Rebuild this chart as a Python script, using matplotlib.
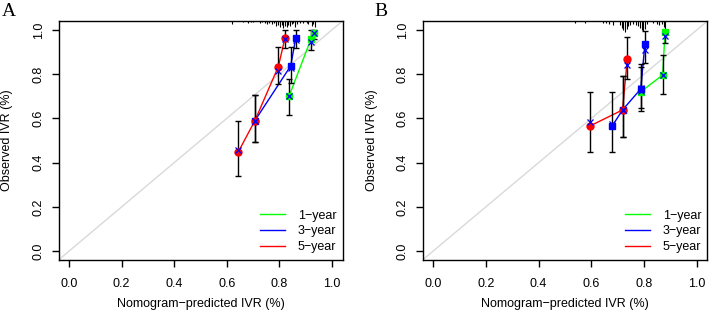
import numpy as np
import matplotlib
matplotlib.use("Agg")
import matplotlib.pyplot as plt

plt.rcParams['font.family'] = ['Liberation Sans', 'DejaVu Sans']

# ---- panel A data (pred, observed, bias-corrected, CI) ----
a1_x = [0.837, 0.920, 0.933]
a1_obs = [0.701, 0.958, 0.986]
a1_cor = [0.700, 0.947, 0.985]
a1_lo = [0.615, 0.910, 0.960]
a1_hi = [0.780, 1.000, 1.000]

a3_x = [0.707, 0.843, 0.862]
a3_obs = [0.590, 0.837, 0.962]
a3_cor = [0.590, 0.826, 0.955]
a3_lo = [0.495, 0.760, 0.920]
a3_hi = [0.705, 0.924, 1.000]

a5_x = [0.644, 0.707, 0.796, 0.821]
a5_obs = [0.449, 0.590, 0.834, 0.962]
a5_cor = [0.455, 0.590, 0.815, 0.958]
a5_lo = [0.339, 0.495, 0.756, 0.920]
a5_hi = [0.588, 0.705, 0.924, 1.000]

# rug of predicted risk at top (position, length)
a_rug_x = [0.621, 0.663, 0.682, 0.692, 0.701, 0.726, 0.733, 0.745, 0.754, 0.762,
           0.771, 0.779, 0.786, 0.794, 0.802, 0.809, 0.815, 0.822, 0.828, 0.834,
           0.840, 0.847, 0.852, 0.859, 0.866, 0.878, 0.891, 0.904, 0.910, 0.923,
           0.929, 0.935]
a_rug_h = [0.014, 0.006, 0.007, 0.005, 0.006, 0.009, 0.005, 0.007, 0.013, 0.009,
           0.014, 0.009, 0.022, 0.018, 0.027, 0.018, 0.031, 0.022, 0.027, 0.018,
           0.022, 0.014, 0.009, 0.027, 0.014, 0.009, 0.009, 0.009, 0.014, 0.022,
           0.014, 0.027]

# ---- panel B data ----
b1_x = [0.787, 0.870, 0.879]
b1_obs = [0.720, 0.796, 0.990]
b1_cor = [0.725, 0.796, 0.970]
b1_lo = [0.646, 0.710, 0.940]
b1_hi = [0.834, 0.887, 1.000]

b3_x = [0.679, 0.718, 0.787, 0.803]
b3_obs = [0.566, 0.638, 0.733, 0.938]
b3_cor = [0.575, 0.638, 0.735, 0.910]
b3_lo = [0.447, 0.514, 0.633, 0.850]
b3_hi = [0.718, 0.793, 0.846, 0.997]

b5_x = [0.595, 0.718, 0.736]
b5_obs = [0.566, 0.638, 0.867]
b5_cor = [0.585, 0.638, 0.842]
b5_lo = [0.447, 0.514, 0.778]
b5_hi = [0.718, 0.793, 0.967]

b_rug_x = [0.538, 0.576, 0.645, 0.657, 0.668, 0.683, 0.708, 0.715, 0.721, 0.727,
           0.734, 0.740, 0.746, 0.756, 0.769, 0.778, 0.784, 0.790, 0.797, 0.803,
           0.812, 0.834, 0.847, 0.857, 0.866, 0.875, 0.879]
b_rug_h = [0.011, 0.009, 0.009, 0.011, 0.014, 0.018, 0.018, 0.032, 0.041, 0.050,
           0.036, 0.022, 0.018, 0.014, 0.018, 0.022, 0.032, 0.041, 0.045, 0.036,
           0.014, 0.009, 0.014, 0.018, 0.014, 0.027, 0.036]

ticks = [0.0, 0.2, 0.4, 0.6, 0.8, 1.0]
tick_labels = ['0.0', '0.2', '0.4', '0.6', '0.8', '1.0']
labels = ['1\u2212year', '3\u2212year', '5\u2212year']
colors = ['#00ff00', '#0000ff', '#ff0000']
marks = ['s', 's', 'o']
fs = 9


def panel(ax, series, rug_x, rug_h):
    w = ax.get_position().width * 709
    ax.set_xlim(-0.04, 1.04)
    ax.set_ylim(-0.04, 1.04)
    # ideal line
    ax.plot([-0.04, 1.04], [-0.04, 1.04], color='#d9d9d9', lw=1, zorder=1)
    ax.vlines(rug_x, 1.04 - np.array(rug_h), 1.04, color='black', lw=0.8, zorder=2)
    for (x, obs, cor, lo, hi), col, lab in zip(series, colors, labels):
        x = np.array(x); obs = np.array(obs)
        ax.plot(x, obs, color=col, lw=1, label=lab, zorder=3)
        ax.errorbar(x, obs, yerr=[obs - np.array(lo), np.array(hi) - obs], fmt='none',
                    ecolor='black', elinewidth=1, capsize=2, capthick=1, zorder=4)
    for (x, obs, cor, lo, hi), col, m in zip(series, colors, marks):
        ax.plot(x, obs, ls='none', marker=m, color=col, ms=5, zorder=5)
        ax.plot(x, cor, ls='none', marker='x', color='#0000ff', ms=4.5, mew=0.9, zorder=6)
    ax.set_xticks(ticks)
    ax.set_xticklabels(tick_labels)
    ax.set_yticks(ticks)
    ax.set_yticklabels(tick_labels, rotation=90, va='center')
    ax.tick_params(direction='out', length=5, width=1, labelsize=fs)
    ax.tick_params(axis='x', pad=8)
    ax.tick_params(axis='y', pad=5)
    for s in ax.spines.values():
        s.set_linewidth(1)
    ax.set_xlabel('Nomogram\u2212predicted IVR (%)', fontsize=fs)
    ax.set_ylabel('Observed IVR (%)', fontsize=fs)
    ax.xaxis.set_label_coords(0.5, -38 / 239)
    ax.yaxis.set_label_coords(-45 / w, 0.5)
    ax.legend(loc='lower right', frameon=False, fontsize=fs, handlelength=2.0,
              handletextpad=1.0, labelspacing=0.3, borderpad=0, borderaxespad=0,
              bbox_to_anchor=(1 - 6 / w, 7 / 239))


fig = plt.figure(figsize=(7.09, 3.21), dpi=100)
axA = fig.add_axes([58.5 / 709, 61 / 321, 284 / 709, 239 / 321])
axB = fig.add_axes([422.5 / 709, 61 / 321, 285 / 709, 239 / 321])

panel(axA, [(a1_x, a1_obs, a1_cor, a1_lo, a1_hi),
            (a3_x, a3_obs, a3_cor, a3_lo, a3_hi),
            (a5_x, a5_obs, a5_cor, a5_lo, a5_hi)], a_rug_x, a_rug_h)
panel(axB, [(b1_x, b1_obs, b1_cor, b1_lo, b1_hi),
            (b3_x, b3_obs, b3_cor, b3_lo, b3_hi),
            (b5_x, b5_obs, b5_cor, b5_lo, b5_hi)], b_rug_x, b_rug_h)

fig.text(2 / 709, 1 - 3 / 321, 'A', family='Liberation Serif', fontsize=14, va='top')
fig.text(374 / 709, 1 - 3 / 321, 'B', family='Liberation Serif', fontsize=14, va='top')

fig.savefig('out.png', dpi=100)
